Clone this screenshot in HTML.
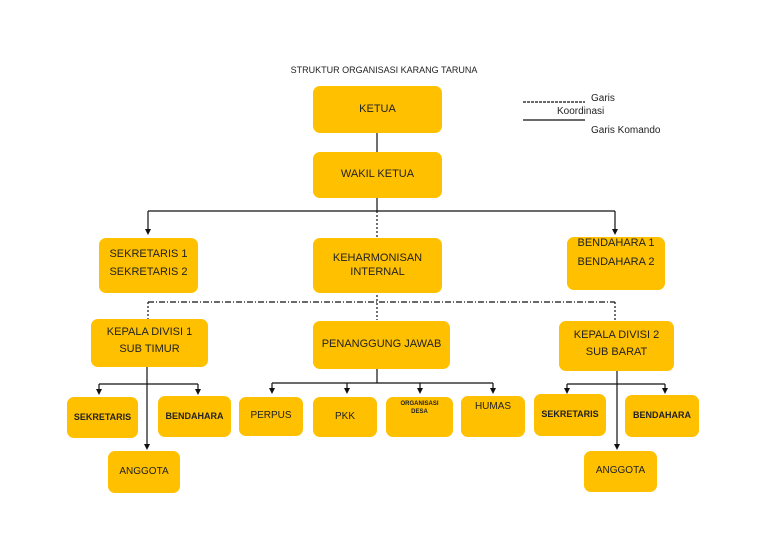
<!DOCTYPE html>
<html><head><meta charset="utf-8"><style>
body{margin:0;width:768px;height:543px;background:#fff;position:relative;overflow:hidden;font-family:"Liberation Sans",sans-serif;}
.b{position:absolute;background:#FFC000;border-radius:7px;display:flex;flex-direction:column;align-items:center;justify-content:center;text-align:center;font-size:11px;color:#222;line-height:1.25;}
.s{font-size:9px;font-weight:bold;}
.t{position:absolute;font-size:10px;color:#222;}
svg{position:absolute;left:0;top:0;}
</style></head><body>
<svg width="768" height="543">
<defs><marker id="a" markerWidth="6" markerHeight="6" refX="3" refY="5" orient="auto"><path d="M0,0 L6,0 L3,6z" fill="#111" transform="rotate(0)"/></marker></defs>
<g stroke="#111" stroke-width="1.2" fill="none">
<line x1="377" y1="133" x2="377" y2="152"/>
<line x1="377" y1="198" x2="377" y2="211"/>
<line x1="148" y1="211" x2="615" y2="211"/>
<line x1="148" y1="211" x2="148" y2="230"/>
<line x1="615" y1="211" x2="615" y2="230"/>
<line x1="377" y1="211" x2="377" y2="320" stroke-dasharray="2,2"/>
<line x1="148" y1="302" x2="615" y2="302" stroke-dasharray="6,2,1,2"/>
<line x1="148" y1="302" x2="148" y2="319" stroke-dasharray="2,2"/>
<line x1="615" y1="302" x2="615" y2="321" stroke-dasharray="2,2"/>
<line x1="147" y1="367" x2="147" y2="444"/>
<line x1="99" y1="384" x2="198" y2="384"/>
<line x1="99" y1="384" x2="99" y2="390"/>
<line x1="198" y1="384" x2="198" y2="390"/>
<line x1="377" y1="369" x2="377" y2="383"/>
<line x1="272" y1="383" x2="493" y2="383"/>
<line x1="272" y1="383" x2="272" y2="389"/>
<line x1="347" y1="383" x2="347" y2="389"/>
<line x1="420" y1="383" x2="420" y2="389"/>
<line x1="493" y1="383" x2="493" y2="389"/>
<line x1="617" y1="371" x2="617" y2="444"/>
<line x1="567" y1="384" x2="665" y2="384"/>
<line x1="567" y1="384" x2="567" y2="389"/>
<line x1="665" y1="384" x2="665" y2="389"/>
<line x1="523" y1="102" x2="585" y2="102" stroke-dasharray="3,1"/>
<line x1="523" y1="120" x2="585" y2="120"/>
</g>
<g fill="#111">
<path d="M145,229 h6 l-3,6z"/><path d="M612,229 h6 l-3,6z"/>
<path d="M144,444 h6 l-3,6z"/><path d="M614,444 h6 l-3,6z"/>
<path d="M96,389 h6 l-3,6z"/><path d="M195,389 h6 l-3,6z"/>
<path d="M269,388 h6 l-3,6z"/><path d="M344,388 h6 l-3,6z"/><path d="M417,388 h6 l-3,6z"/><path d="M490,388 h6 l-3,6z"/>
<path d="M564,388 h6 l-3,6z"/><path d="M662,388 h6 l-3,6z"/>
</g>
</svg>
<div class="t" style="left:0;width:768px;text-align:center;top:65px;font-size:9px;">STRUKTUR ORGANISASI KARANG TARUNA</div>
<div class="t" style="left:591px;top:93px;">Garis</div>
<div class="t" style="left:557px;top:106px;">Koordinasi</div>
<div class="t" style="left:591px;top:125px;">Garis Komando</div>
<div class="b" style="left:313px;top:86px;width:129px;height:47px;">KETUA</div>
<div class="b" style="left:313px;top:152px;width:129px;height:46px;">WAKIL KETUA</div>
<div class="b" style="left:99px;top:238px;width:99px;height:55px;">SEKRETARIS 1<br><span style="line-height:2">SEKRETARIS 2</span></div>
<div class="b" style="left:313px;top:238px;width:129px;height:55px;">KEHARMONISAN<br>INTERNAL</div>
<div class="b" style="left:567px;top:237px;width:98px;height:53px;justify-content:flex-start;padding-top:0;">BENDAHARA 1<br><span style="line-height:2">BENDAHARA 2</span></div>
<div class="b" style="left:91px;top:319px;width:117px;height:48px;">KEPALA DIVISI 1<br><span style="line-height:1.9">SUB TIMUR</span></div>
<div class="b" style="left:313px;top:321px;width:137px;height:48px;">PENANGGUNG JAWAB</div>
<div class="b" style="left:559px;top:321px;width:115px;height:50px;">KEPALA DIVISI 2<br><span style="line-height:1.9">SUB BARAT</span></div>
<div class="b s" style="left:67px;top:397px;width:71px;height:41px;">SEKRETARIS</div>
<div class="b s" style="left:158px;top:396px;width:73px;height:41px;">BENDAHARA</div>
<div class="b" style="left:108px;top:451px;width:72px;height:42px;font-size:10px;">ANGGOTA</div>
<div class="b" style="left:239px;top:397px;width:64px;height:39px;font-size:10px;">PERPUS</div>
<div class="b" style="left:313px;top:397px;width:64px;height:40px;font-size:10px;">PKK</div>
<div class="b s" style="left:386px;top:397px;width:67px;height:40px;font-size:6px;justify-content:flex-start;padding-top:0;"><span style="margin-top:4px">ORGANISASI<br>DESA</span></div>
<div class="b" style="left:461px;top:396px;width:64px;height:41px;font-size:10px;justify-content:flex-start;"><span style="margin-top:5px">HUMAS</span></div>
<div class="b s" style="left:534px;top:394px;width:72px;height:42px;">SEKRETARIS</div>
<div class="b s" style="left:625px;top:395px;width:74px;height:42px;">BENDAHARA</div>
<div class="b" style="left:584px;top:451px;width:73px;height:41px;font-size:10px;">ANGGOTA</div>
</body></html>
